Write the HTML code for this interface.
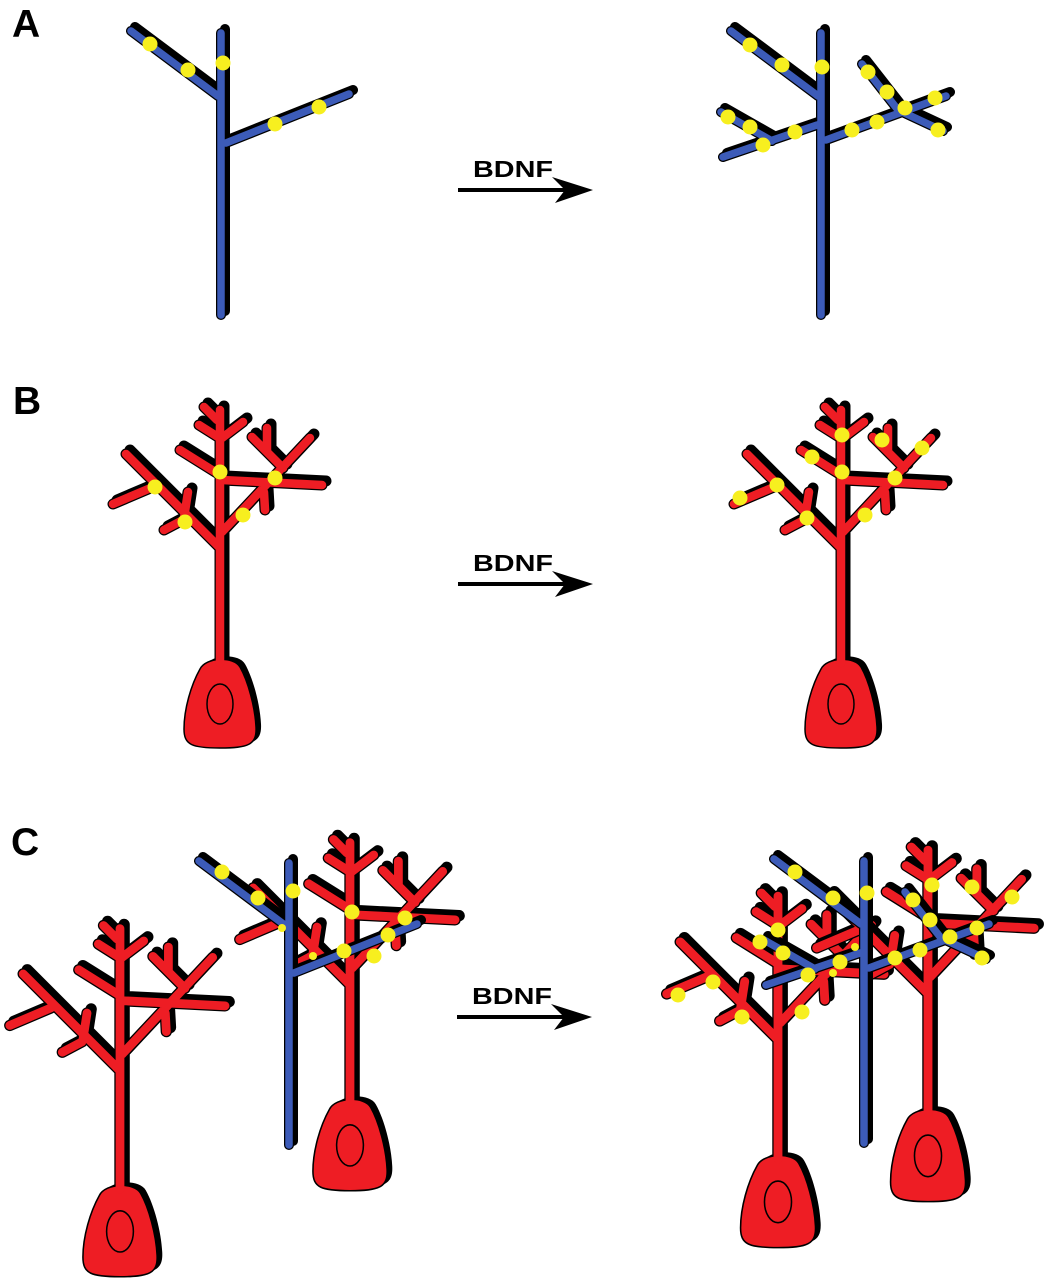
<!DOCTYPE html>
<html>
<head>
<meta charset="utf-8">
<style>
  html,body{margin:0;padding:0;background:#fff;}
  svg{display:block;}
</style>
</head>
<body>
<svg width="1055" height="1280" viewBox="0 0 1055 1280" xmlns="http://www.w3.org/2000/svg">
<defs>
  <path id="rl" fill="none" stroke-linecap="round" stroke-linejoin="round"
    d="M0,6 V-247 M-3,-237 L-16,-250 M-2,-220 L-21,-232 M2,-219 L23,-235 M0,-182 L-40,-207 M0,-109 L-94,-203 M-67,-170 L-107,-153 M-36,-139 L-32,-165 M-37,-137 L-56,-127 M2,-125 L90,-219 M44,-165 L45,-147 M2,-177 L102,-172 M63,-189 L32,-220 M47,-205 L47,-229"/>
  <path id="soma" d="M-20,12 C-14,0 14,-1 20,10 C28,24 35,50 36,70 C37,88 28,91 0,91 C-28,91 -36,88 -36,72 C-36,52 -29,28 -20,12 Z"/>
  <g id="rn">
    <use href="#rl" transform="translate(4,-4)" stroke="#000" stroke-width="11"/>
    <use href="#soma" transform="translate(5,-3)" fill="#000"/>
    <use href="#rl" stroke="#000" stroke-width="11"/>
    <use href="#soma" fill="#ee1d24" stroke="#000" stroke-width="1.5"/>
    <use href="#rl" stroke="#ee1d24" stroke-width="8.5"/>
    <ellipse cx="0" cy="47" rx="13" ry="20" fill="none" stroke="#000" stroke-width="1.5"/>
  </g>
  <path id="blA" fill="none" stroke-linecap="round" stroke-linejoin="round"
    d="M221,315 V33 M218,96 L131,31 M226,143 L349,94"/>
  <g id="axA">
    <use href="#blA" transform="translate(4,-4)" stroke="#000" stroke-width="10"/>
    <use href="#blA" stroke="#000" stroke-width="10"/>
    <use href="#blA" stroke="#3c5bb8" stroke-width="7.5"/>
  </g>
  <path id="blB" fill="none" stroke-linecap="round" stroke-linejoin="round"
    d="M821,315 V33 M818,96 L731,31 M826,140 L946,96 M817,125 L723,157 M772,141 L721,112 M862,64 L898,110 L943,131"/>
  <g id="axB">
    <use href="#blB" transform="translate(4,-4)" stroke="#000" stroke-width="10"/>
    <use href="#blB" stroke="#000" stroke-width="10"/>
    <use href="#blB" stroke="#3c5bb8" stroke-width="7.5"/>
  </g>
  <g id="arrow">
    <line x1="458" y1="190" x2="572" y2="190" stroke="#000" stroke-width="4"/>
    <polygon points="593,190 552,177 565,190 555,203" fill="#000"/>
    <text x="473" y="177" font-family="Liberation Sans, Arial, sans-serif" font-weight="bold" font-size="23" textLength="80" lengthAdjust="spacingAndGlyphs">BDNF</text>
  </g>
</defs>
<rect width="1055" height="1280" fill="#fff"/>
<g font-family="Liberation Sans, Arial, sans-serif" font-weight="bold" font-size="39" fill="#000">
  <text x="12" y="37">A</text>
  <text x="13" y="414">B</text>
  <text x="11" y="855">C</text>
</g>
<use href="#arrow"/>
<use href="#arrow" transform="translate(0,394)"/>
<use href="#arrow" transform="translate(-1,827)"/>
<use href="#axA"/>
<use href="#axB"/>
<use href="#rn" transform="translate(220,657)"/>
<use href="#rn" transform="translate(841,657)"/>
<use href="#rn" transform="translate(120,1183) scale(1.03)"/>
<use href="#rn" transform="translate(350,1097) scale(1.03)"/>
<use href="#axA" transform="translate(68,830)"/>
<use href="#rn" transform="translate(778,1153) scale(1.04)"/>
<use href="#rn" transform="translate(928,1107) scale(1.04)"/>
<use href="#axB" transform="translate(43,828)"/>
<g fill="#f7ef1f">
  <circle cx="150" cy="44" r="7.5"/><circle cx="188" cy="70" r="7.5"/><circle cx="223" cy="63" r="7.5"/><circle cx="275" cy="124" r="7.5"/><circle cx="319" cy="107" r="7.5"/>
  <circle cx="750" cy="45" r="7.5"/><circle cx="782" cy="65" r="7.5"/><circle cx="822" cy="67" r="7.5"/><circle cx="728" cy="117" r="7.5"/><circle cx="750" cy="127" r="7.5"/><circle cx="763" cy="145" r="7.5"/><circle cx="795" cy="132" r="7.5"/><circle cx="852" cy="130" r="7.5"/><circle cx="877" cy="122" r="7.5"/><circle cx="868" cy="72" r="7.5"/><circle cx="887" cy="92" r="7.5"/><circle cx="905" cy="108" r="7.5"/><circle cx="935" cy="98" r="7.5"/><circle cx="938" cy="130" r="7.5"/>
  <circle cx="155" cy="487" r="7.5"/><circle cx="185" cy="522" r="7.5"/><circle cx="220" cy="472" r="7.5"/><circle cx="275" cy="478" r="7.5"/><circle cx="243" cy="515" r="7.5"/>
  <circle cx="740" cy="498" r="7.5"/><circle cx="777" cy="485" r="7.5"/><circle cx="807" cy="518" r="7.5"/><circle cx="812" cy="457" r="7.5"/><circle cx="842" cy="435" r="7.5"/><circle cx="842" cy="472" r="7.5"/><circle cx="882" cy="440" r="7.5"/><circle cx="922" cy="448" r="7.5"/><circle cx="895" cy="478" r="7.5"/><circle cx="865" cy="515" r="7.5"/>
  <circle cx="222" cy="872" r="7.5"/><circle cx="258" cy="898" r="7.5"/><circle cx="293" cy="891" r="7.5"/><circle cx="282" cy="928" r="4"/><circle cx="352" cy="912" r="7.5"/><circle cx="405" cy="918" r="7.5"/><circle cx="388" cy="935" r="7.5"/><circle cx="344" cy="951" r="7.5"/><circle cx="374" cy="956" r="7.5"/><circle cx="313" cy="956" r="4"/>
  <circle cx="795" cy="872" r="7.5"/><circle cx="833" cy="898" r="7.5"/><circle cx="867" cy="893" r="7.5"/><circle cx="932" cy="885" r="7.5"/><circle cx="972" cy="887" r="7.5"/><circle cx="1012" cy="897" r="7.5"/><circle cx="913" cy="900" r="7.5"/><circle cx="930" cy="920" r="7.5"/><circle cx="977" cy="928" r="7.5"/><circle cx="950" cy="937" r="7.5"/><circle cx="982" cy="958" r="7.5"/><circle cx="920" cy="950" r="7.5"/><circle cx="895" cy="958" r="7.5"/><circle cx="778" cy="930" r="7.5"/><circle cx="760" cy="942" r="7.5"/><circle cx="783" cy="953" r="7.5"/><circle cx="808" cy="975" r="7.5"/><circle cx="840" cy="962" r="7.5"/><circle cx="833" cy="973" r="4"/><circle cx="855" cy="947" r="4"/><circle cx="713" cy="982" r="7.5"/><circle cx="678" cy="995" r="7.5"/><circle cx="742" cy="1017" r="7.5"/><circle cx="802" cy="1012" r="7.5"/>
</g>
</svg>
</body>
</html>
